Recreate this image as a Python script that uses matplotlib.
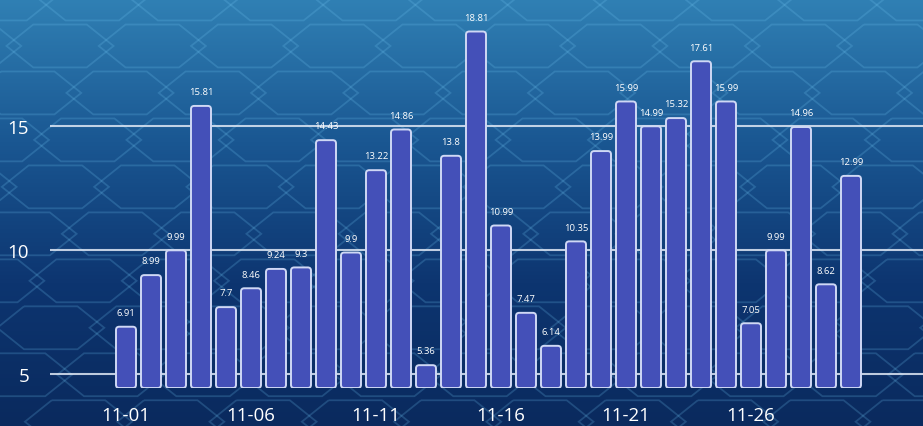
import numpy as np
import matplotlib.pyplot as plt
from matplotlib.patches import FancyBboxPatch, RegularPolygon
from matplotlib.colors import LinearSegmentedColormap

# data
days = ['11-%02d' % d for d in range(1, 31)]
values = [6.91, 8.99, 9.99, 15.81, 7.7, 8.46, 9.24, 9.3, 14.43, 9.9,
          13.22, 14.86, 5.36, 13.8, 18.81, 10.99, 7.47, 6.14, 10.35, 13.99,
          15.99, 14.99, 15.32, 17.61, 15.99, 7.05, 9.99, 14.96, 8.62, 12.99]
yticks = [5, 10, 15]

plt.rcParams['font.family'] = ['Open Sans', 'DejaVu Sans']

fig = plt.figure(figsize=(9.23, 4.27), dpi=100)

# background: blue gradient + flattened hex grid
bg = fig.add_axes([0, 0, 1, 1])
cmap = LinearSegmentedColormap.from_list('bg', ['#3080b4', '#1a5792', '#0d3570', '#0a2a5e'])
grad = np.linspace(0, 1, 256).reshape(-1, 1)
bg.imshow(grad, aspect='auto', cmap=cmap, extent=[0, 1, 0, 1], origin='upper')
for row in range(-1, 10):
    for col in range(-1, 12):
        cx = col * 0.1 + (0.05 if row % 2 else 0) + row * 0.015
        cy = 1 - row * 0.11
        hexa = RegularPolygon((cx, cy), numVertices=6, radius=0.058,
                              orientation=np.pi / 6, fill=False,
                              edgecolor='#6fc3f0', lw=1.3, alpha=0.22)
        bg.add_patch(hexa)
bg.set_xlim(0, 1)
bg.set_ylim(0, 1)
bg.axis('off')

ax = fig.add_axes([50 / 923, 1 - 389 / 427, 873 / 923, 389 / 427])
ax.patch.set_alpha(0)
ymin, ymax = 4.44, 20.12
x = np.arange(len(values))

bars = ax.bar(x, [v - ymin for v in values], bottom=ymin, width=0.8)
for b, v in zip(bars, values):
    b.set_visible(False)
    rb = FancyBboxPatch((b.get_x(), b.get_y()), b.get_width(), b.get_height(),
                        boxstyle='round,pad=0,rounding_size=0.13',
                        mutation_aspect=1.0, facecolor='#4450b8',
                        edgecolor='#cfd8f5', lw=1.4, zorder=3)
    ax.add_patch(rb)
    ax.annotate(str(v), (b.get_x() + b.get_width() / 2, v), xytext=(0, 7),
                textcoords='offset points', ha='center', va='bottom',
                fontsize=6.8, color='white', zorder=4)

for t in yticks:
    ax.axhline(t, color='#dfe8f5', lw=1.5, alpha=0.85, zorder=1)

ax.set_xlim(-3.04, 31.88)
ax.set_ylim(ymin, ymax)
ax.set_yticks(yticks)
ax.set_xticks(x[::5])
ax.set_xticklabels(days[::5])
ax.tick_params(axis='both', length=0, colors='white', labelsize=13.5)
ax.tick_params(axis='y', pad=15)
ax.tick_params(axis='x', pad=13)
for s in ax.spines.values():
    s.set_visible(False)

fig.savefig('out.png', dpi=100)
